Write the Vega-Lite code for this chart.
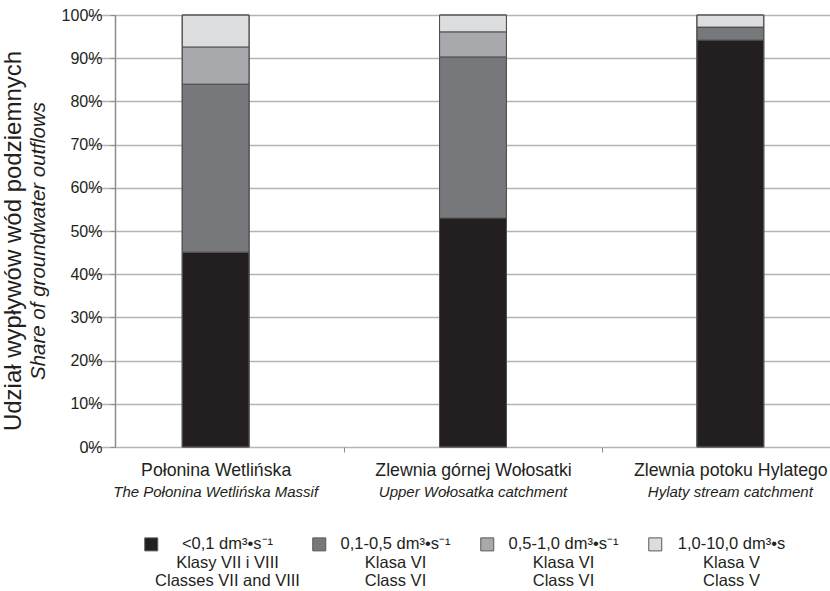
{
  "$schema": "https://vega.github.io/schema/vega-lite/v6.json",
  "width": 715,
  "height": 432,
  "autosize": {"type": "none"},
  "padding": {"left": 115, "top": 15, "right": 0, "bottom": 144},
  "background": "white",
  "config": {"view": {"stroke": null}},
  "title": {
    "text": "Udział wypływów wód podziemnych",
    "subtitle": "Share of groundwater outflows",
    "orient": "left",
    "anchor": "middle",
    "frame": "group",
    "dx": -10,
    "font": "Liberation Sans",
    "fontSize": 24,
    "fontWeight": "normal",
    "color": "#231f20",
    "subtitleFont": "Liberation Sans",
    "subtitleFontSize": 20.5,
    "subtitleFontStyle": "italic",
    "subtitleColor": "#231f20",
    "subtitlePadding": 3,
    "offset": 12
  },
  "data": {
    "values": [
      {"site": "Połonina Wetlińska", "site_en": "The Połonina Wetlińska Massif", "k": 1, "cls": "<0,1 dm³•s⁻¹|Klasy VII i VIII|Classes VII and VIII", "share": 0.451},
      {"site": "Połonina Wetlińska", "site_en": "The Połonina Wetlińska Massif", "k": 2, "cls": "0,1-0,5 dm³•s⁻¹|Klasa VI|Class VI", "share": 0.389},
      {"site": "Połonina Wetlińska", "site_en": "The Połonina Wetlińska Massif", "k": 3, "cls": "0,5-1,0 dm³•s⁻¹|Klasa VI|Class VI", "share": 0.086},
      {"site": "Połonina Wetlińska", "site_en": "The Połonina Wetlińska Massif", "k": 4, "cls": "1,0-10,0 dm³•s|Klasa V|Class V", "share": 0.074},
      {"site": "Zlewnia górnej Wołosatki", "site_en": "Upper Wołosatka catchment", "k": 1, "cls": "<0,1 dm³•s⁻¹|Klasy VII i VIII|Classes VII and VIII", "share": 0.530},
      {"site": "Zlewnia górnej Wołosatki", "site_en": "Upper Wołosatka catchment", "k": 2, "cls": "0,1-0,5 dm³•s⁻¹|Klasa VI|Class VI", "share": 0.373},
      {"site": "Zlewnia górnej Wołosatki", "site_en": "Upper Wołosatka catchment", "k": 3, "cls": "0,5-1,0 dm³•s⁻¹|Klasa VI|Class VI", "share": 0.058},
      {"site": "Zlewnia górnej Wołosatki", "site_en": "Upper Wołosatka catchment", "k": 4, "cls": "1,0-10,0 dm³•s|Klasa V|Class V", "share": 0.039},
      {"site": "Zlewnia potoku Hylatego", "site_en": "Hylaty stream catchment", "k": 1, "cls": "<0,1 dm³•s⁻¹|Klasy VII i VIII|Classes VII and VIII", "share": 0.942},
      {"site": "Zlewnia potoku Hylatego", "site_en": "Hylaty stream catchment", "k": 2, "cls": "0,1-0,5 dm³•s⁻¹|Klasa VI|Class VI", "share": 0.030},
      {"site": "Zlewnia potoku Hylatego", "site_en": "Hylaty stream catchment", "k": 3, "cls": "0,5-1,0 dm³•s⁻¹|Klasa VI|Class VI", "share": 0.0},
      {"site": "Zlewnia potoku Hylatego", "site_en": "Hylaty stream catchment", "k": 4, "cls": "1,0-10,0 dm³•s|Klasa V|Class V", "share": 0.028}
    ]
  },
  "resolve": {"scale": {"x": "independent"}, "axis": {"x": "independent"}},
  "layer": [
    {
      "mark": {"type": "bar", "width": {"band": 0.26}, "stroke": "#505050", "strokeWidth": 1},
      "encoding": {
        "x": {
          "field": "site", "type": "nominal", "sort": null,
          "scale": {"range": [-28, 744], "paddingInner": 0, "paddingOuter": 0},
          "axis": {
            "title": null, "orient": "bottom", "labelFont": "Liberation Sans", "labelFontSize": 17.7, "labelColor": "#231f20",
            "labelAngle": 0, "labelBaseline": "top", "labelPadding": 9, "tickBand": "extent",
            "tickSize": 5, "tickColor": "#8c8c8c", "tickWidth": 1, "domain": false, "grid": false, "labelLimit": 300
          }
        },
        "y": {
          "field": "share", "type": "quantitative", "stack": "zero",
          "scale": {"domain": [0, 1]},
          "axis": {
            "title": null, "values": [0, 0.1, 0.2, 0.3, 0.4, 0.5, 0.6, 0.7, 0.8, 0.9, 1], "format": ".0%",
            "labelFont": "Liberation Sans", "labelFontSize": 16, "labelColor": "#231f20", "labelPadding": 8,
            "tickSize": 5, "tickColor": "#8c8c8c", "domainColor": "#8c8c8c", "domainWidth": 1.5,
            "grid": true, "gridColor": "#b4b4b4", "gridWidth": 1.5
          }
        },
        "order": {"field": "k", "type": "quantitative", "sort": "ascending"},
        "color": {
          "field": "cls", "type": "nominal",
          "scale": {
            "domain": ["<0,1 dm³•s⁻¹|Klasy VII i VIII|Classes VII and VIII", "0,1-0,5 dm³•s⁻¹|Klasa VI|Class VI", "0,5-1,0 dm³•s⁻¹|Klasa VI|Class VI", "1,0-10,0 dm³•s|Klasa V|Class V"],
            "range": ["#231f20", "#77787b", "#a7a9ac", "#dcdddf"]
          },
          "legend": {
            "orient": "none", "legendX": 28, "legendY": 521, "direction": "horizontal", "columns": 4,
            "gridAlign": "all",
            "title": null, "symbolType": "square", "symbolSize": 169, "symbolStrokeColor": "#58595b",
            "symbolStrokeWidth": 1, "symbolOpacity": 1,
            "labelFont": "Liberation Sans", "labelFontSize": 16.5, "labelColor": "#231f20",
            "labelAlign": "center", "labelOffset": 68, "labelExpr": "split(datum.label, '|')",
            "labelLimit": 300, "columnPadding": 10
          }
        }
      }
    },
    {
      "mark": {"type": "bar", "width": {"band": 0.26}, "fillOpacity": 0, "stroke": "#505050", "strokeWidth": 1},
      "encoding": {
        "x": {
          "field": "site_en", "type": "nominal", "sort": null,
          "scale": {"range": [-28, 744], "paddingInner": 0, "paddingOuter": 0},
          "axis": {
            "title": null, "orient": "bottom", "labelFont": "Liberation Sans", "labelFontSize": 15, "labelFontStyle": "italic",
            "labelColor": "#231f20", "labelAngle": 0, "labelBaseline": "top", "labelPadding": 37,
            "ticks": false, "domain": false, "grid": false, "labelLimit": 300
          }
        },
        "y": {"aggregate": "sum", "field": "share", "type": "quantitative"}
      }
    }
  ]
}
